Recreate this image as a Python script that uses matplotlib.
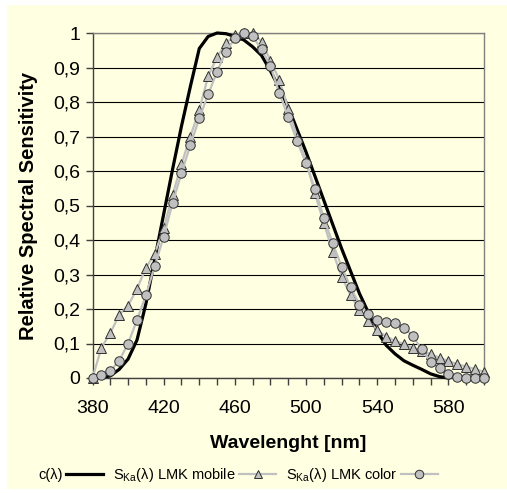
import matplotlib
matplotlib.use("Agg")
import matplotlib.pyplot as plt
from matplotlib.patches import Rectangle
from matplotlib.ticker import MultipleLocator, FuncFormatter

plt.rcParams['font.family'] = ['Liberation Sans', 'DejaVu Sans']

# c(lambda) curve
wl_c = [380, 385, 390, 395, 400, 405, 410, 415, 420, 425, 430, 435, 440, 445,
        450, 455, 460, 465, 470, 475, 480, 485, 490, 495, 500, 505, 510, 515,
        520, 525, 530, 535, 540, 545, 550, 555, 560, 565, 570, 575, 580]
c_val = [0.0, 0.002, 0.006, 0.025, 0.055, 0.11, 0.215, 0.345, 0.475, 0.605,
         0.73, 0.845, 0.955, 0.99, 1.0, 0.998, 0.99, 0.98, 0.96, 0.935, 0.89,
         0.84, 0.785, 0.72, 0.655, 0.585, 0.515, 0.445, 0.375, 0.31, 0.245,
         0.19, 0.135, 0.095, 0.07, 0.05, 0.037, 0.025, 0.012, 0.004, 0.0]

# measured series, every 5 nm
wl_m = [380, 385, 390, 395, 400, 405, 410, 415, 420, 425, 430, 435, 440, 445,
        450, 455, 460, 465, 470, 475, 480, 485, 490, 495, 500, 505, 510, 515,
        520, 525, 530, 535, 540, 545, 550, 555, 560, 565, 570, 575, 580, 585,
        590, 595, 600]
mobile = [0.0, 0.088, 0.13, 0.183, 0.21, 0.258, 0.319, 0.36, 0.435, 0.53,
          0.62, 0.70, 0.777, 0.875, 0.93, 0.97, 0.994, 1.0, 1.0, 0.975, 0.92,
          0.864, 0.78, 0.70, 0.63, 0.535, 0.449, 0.366, 0.294, 0.24, 0.197,
          0.166, 0.139, 0.12, 0.108, 0.098, 0.088, 0.079, 0.069, 0.059, 0.049,
          0.04, 0.033, 0.026, 0.018]
color = [0.0, 0.01, 0.02, 0.05, 0.10, 0.168, 0.24, 0.325, 0.41, 0.507, 0.594,
         0.675, 0.753, 0.822, 0.888, 0.946, 0.985, 1.0, 0.99, 0.953, 0.904,
         0.825, 0.757, 0.686, 0.622, 0.548, 0.463, 0.39, 0.323, 0.263, 0.213,
         0.185, 0.168, 0.163, 0.16, 0.146, 0.122, 0.083, 0.047, 0.028, 0.011,
         0.004, 0.0, 0.0, 0.0]

labels = [r"c(λ)", r"S$_\mathregular{Ka}$(λ) LMK mobile",
          r"S$_\mathregular{Ka}$(λ) LMK color"]

BG = "#FFFFE1"
fig = plt.figure(figsize=(5.07, 4.93), dpi=100, facecolor="white")
bgrect = Rectangle((7 / 507, 1 - 489 / 493), 1 - 7 / 507, (489 - 5) / 493,
                   transform=fig.transFigure, facecolor=BG,
                   edgecolor="none", zorder=-10)
fig.add_artist(bgrect)

ax = fig.add_axes([92.5 / 507, 1 - 378 / 493, (484 - 92.5) / 507, (378 - 33) / 493])
ax.set_facecolor(BG)
ax.set_zorder(1)

l1, = ax.plot(wl_c, c_val, color="black", lw=2.3, zorder=3)
l2, = ax.plot(wl_m, mobile, color="#C0C0C0", lw=1.6, marker="^", ms=7,
              mfc="#C0C0C0", mec="#303030", mew=0.7, zorder=4)
l3, = ax.plot(wl_m, color, color="#C0C0C0", lw=1.6, marker="o", ms=6.8,
              mfc="#C0C0C0", mec="#303030", mew=0.7, zorder=5)
for ln in (l1, l2, l3):
    ln.set_clip_on(False)

ax.set_xlim(380, 600)
ax.set_ylim(0, 1)
ax.xaxis.set_major_locator(MultipleLocator(40, offset=20))
ax.xaxis.set_minor_locator(MultipleLocator(10))
ax.yaxis.set_major_locator(MultipleLocator(0.1))
ax.yaxis.set_major_formatter(FuncFormatter(
    lambda v, p: ("%g" % round(v, 1)).replace(".", ",")))
ax.xaxis.set_major_formatter(FuncFormatter(lambda v, p: "%d" % v))

ax.grid(axis="y", color="black", lw=0.8)
ax.set_axisbelow(True)
for s in ["top", "right"]:
    ax.spines[s].set_color("#808080")
    ax.spines[s].set_linewidth(1.0)
for s in ["left", "bottom"]:
    ax.spines[s].set_color("#404040")
    ax.spines[s].set_linewidth(1.0)

ax.tick_params(axis="both", which="major", direction="out", length=5,
               width=1, color="#404040", labelsize=14)
ax.tick_params(axis="x", which="minor", direction="out", length=5, width=1,
               color="#404040")
ax.tick_params(axis="x", which="major", pad=11)
ax.tick_params(axis="y", pad=4)

ax.set_ylabel("Relative Spectral Sensitivity", fontsize=14.5,
              fontweight="bold", labelpad=11)
ax.set_xlabel("Wavelenght [nm]", fontsize=14, fontweight="bold", labelpad=13)

fig.legend([l1, l2, l3], labels, loc="center", ncol=3,
           bbox_to_anchor=(238 / 507, 1 - 475 / 493), frameon=False,
           markerfirst=False, fontsize=10.5, handlelength=2.5,
           handletextpad=0.25, columnspacing=0.7, markerscale=0.9)

fig.savefig("out.png", dpi=100, facecolor="white")
